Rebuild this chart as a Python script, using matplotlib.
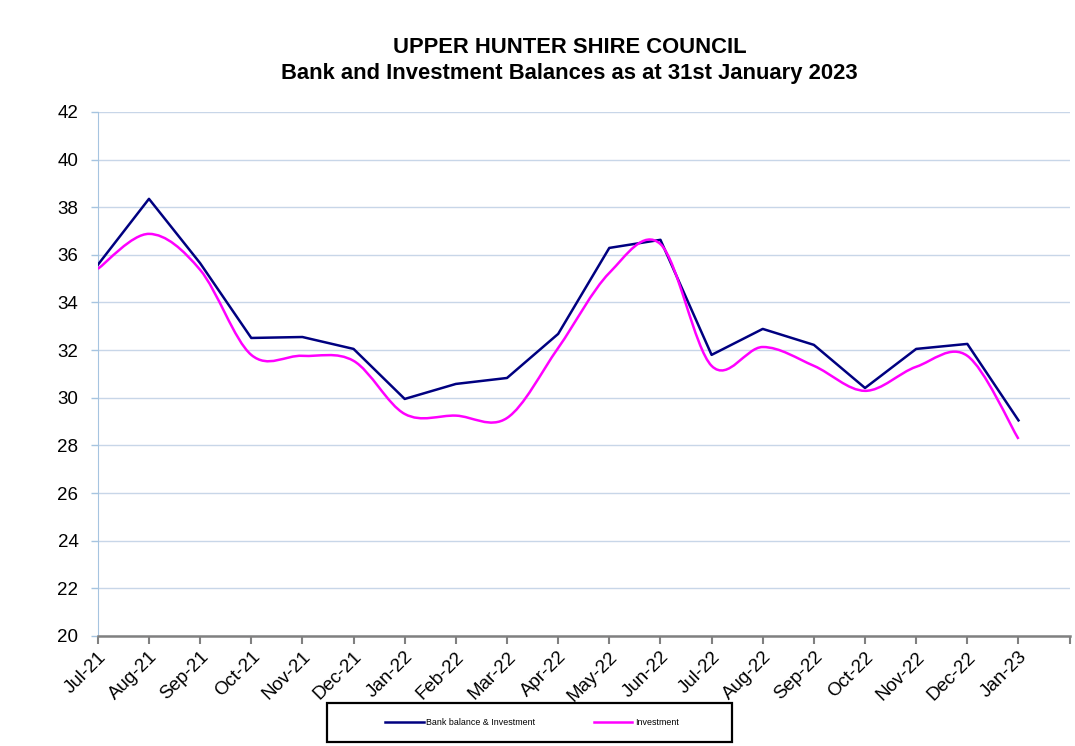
import numpy as np
import matplotlib
matplotlib.use('Agg')
import matplotlib.pyplot as plt
from matplotlib.path import Path
from matplotlib.patches import PathPatch, Rectangle
from matplotlib.lines import Line2D

months = ['Jul-21', 'Aug-21', 'Sep-21', 'Oct-21', 'Nov-21', 'Dec-21', 'Jan-22',
          'Feb-22', 'Mar-22', 'Apr-22', 'May-22', 'Jun-22', 'Jul-22', 'Aug-22',
          'Sep-22', 'Oct-22', 'Nov-22', 'Dec-22', 'Jan-23']
bank_balance = [35.58, 38.35, 35.65, 32.51, 32.55, 32.05, 29.95, 30.58, 30.83,
                32.68, 36.29, 36.63, 31.80, 32.89, 32.22, 30.41, 32.05, 32.26, 29.05]
investment = [35.41, 36.88, 35.37, 31.80, 31.76, 31.55, 29.32, 29.25, 29.15,
              32.09, 35.24, 36.45, 31.34, 32.13, 31.34, 30.29, 31.30, 31.76, 28.27]

navy = '#000080'
magenta = '#ff00ff'

plt.rcParams['font.family'] = 'Liberation Sans'

fig = plt.figure(figsize=(10.75, 7.46), dpi=100)
ax = fig.add_axes([0.091, 0.1475, 0.904, 0.7025])

x = np.arange(len(months))
ax.plot(x, bank_balance, color=navy, lw=1.8, zorder=3)


# smoothed line like the spreadsheet's "smoothed line" option (Catmull-Rom bezier)
def smooth_path(xs, ys):
    pts = np.column_stack([xs, ys]).astype(float)
    verts = [pts[0]]
    codes = [Path.MOVETO]
    n = len(pts)
    for i in range(n - 1):
        p0 = pts[i - 1] if i > 0 else pts[i]
        p1 = pts[i]
        p2 = pts[i + 1]
        p3 = pts[i + 2] if i + 2 < n else pts[i + 1]
        c1 = p1 + (p2 - p0) / 6.0
        c2 = p2 - (p3 - p1) / 6.0
        verts += [c1, c2, p2]
        codes += [Path.CURVE4] * 3
    return Path(verts, codes)


ax.add_patch(PathPatch(smooth_path(x, investment), facecolor='none',
                       edgecolor=magenta, lw=1.8, zorder=3))

ax.set_xlim(0, len(months))
ax.set_ylim(20, 42)
ax.set_yticks(np.arange(20, 43, 2))
ax.set_xticks(np.arange(len(months) + 1))
ax.set_xticklabels(months + [''], rotation=45, ha='right', va='top',
                   rotation_mode='anchor', fontsize=13.5)
ax.tick_params(axis='y', labelsize=13.5, length=5, color='#a6c4e0', width=1, pad=9)
ax.tick_params(axis='x', length=6, color='#808080', width=1.5, pad=3)
ax.grid(axis='y', color='#c8d6e8', lw=1)
ax.set_axisbelow(True)
for s in ['top', 'right']:
    ax.spines[s].set_visible(False)
ax.spines['left'].set_color('#a6c4e0')
ax.spines['bottom'].set_color('#808080')
ax.spines['bottom'].set_linewidth(1.8)

fig.text(0.530, 0.919, 'UPPER HUNTER SHIRE COUNCIL\nBank and Investment Balances as at 31st January 2023',
         ha='center', va='center', fontsize=15.8, fontweight='bold', linespacing=1.33)

# legend box
fig.add_artist(Rectangle((0.304, 0.0054), 0.377, 0.052, transform=fig.transFigure,
                         facecolor='white', edgecolor='black', lw=1.6))
handles = [Line2D([], [], color=navy, lw=1.8), Line2D([], [], color=magenta, lw=1.8)]
leg = fig.legend(handles, ['Bank balance & Investment', 'Investment'],
                 loc='center', bbox_to_anchor=(0.4949, 0.032), ncol=2,
                 fontsize=6.4, frameon=False, handlelength=4.3,
                 columnspacing=6.6, handletextpad=0.3)

fig.savefig('out.png', dpi=100)
